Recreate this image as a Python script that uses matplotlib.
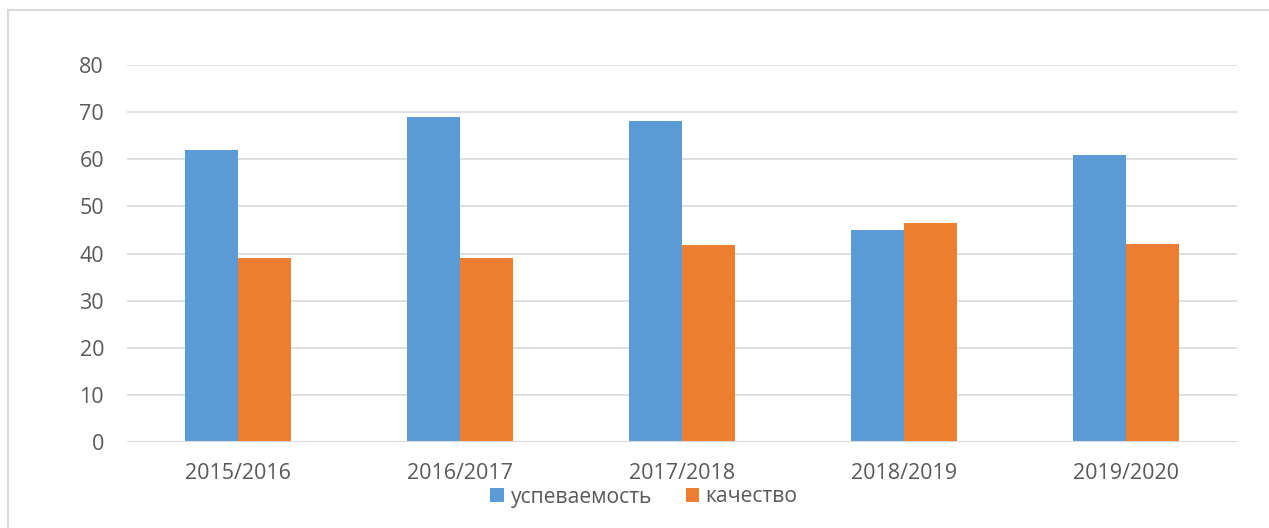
import matplotlib
matplotlib.use("Agg")
import matplotlib.pyplot as plt
import numpy as np
from matplotlib.lines import Line2D
from matplotlib.patches import Patch

categories = ["2015/2016", "2016/2017", "2017/2018", "2018/2019", "2019/2020"]
uspevaemost = [62, 69, 68.2, 45, 61]
kachestvo = [39, 39, 41.8, 46.4, 42]
series_names = ["успеваемость", "качество"]
yticks = [0, 10, 20, 30, 40, 50, 60, 70, 80]

plt.rcParams['font.family'] = ['Open Sans', 'DejaVu Sans']
text_color = "#595959"
grid_color = "#d9d9d9"
blue = "#5B9BD5"
orange = "#ED7D31"

fig = plt.figure(figsize=(12.69, 5.28), dpi=100)
ax = fig.add_axes([127/1269, 86/528, 1110/1269, 377/528])

x = np.arange(len(categories))
w = 0.239
ax.bar(x - w/2, uspevaemost, width=w, color=blue, zorder=3)
ax.bar(x + w/2, kachestvo, width=w, color=orange, zorder=3)

ax.set_xlim(-0.5, len(categories) - 0.5)
ax.set_ylim(0, 80)
ax.set_yticks(yticks)
ax.set_xticks(x)
ax.set_xticklabels(categories)
ax.tick_params(axis='both', length=0, labelsize=15.5, colors=text_color)
ax.tick_params(axis='y', pad=16.5)
ax.tick_params(axis='x', pad=15)
ax.yaxis.grid(True, color=grid_color, linewidth=1.2, zorder=0)
for s in ax.spines.values():
    s.set_visible(False)
ax.axhline(0, color=grid_color, linewidth=1.5, zorder=4)

handles = [Patch(facecolor=blue), Patch(facecolor=orange)]
fig.legend(handles, series_names, loc='center', bbox_to_anchor=(644/1269, 1 - 497/528),
           ncol=2, frameon=False, fontsize=15.2, labelcolor=text_color,
           handlelength=0.65, handleheight=0.65, handletextpad=0.3, columnspacing=1.6)

# outer chart border (left and top visible)
fig.add_artist(Line2D([8/1269, 8/1269], [0, 1 - 10/528], transform=fig.transFigure, color=grid_color, linewidth=1.5))
fig.add_artist(Line2D([8/1269, 1], [1 - 10/528, 1 - 10/528], transform=fig.transFigure, color=grid_color, linewidth=1.5))

fig.savefig("out.png", dpi=100)
